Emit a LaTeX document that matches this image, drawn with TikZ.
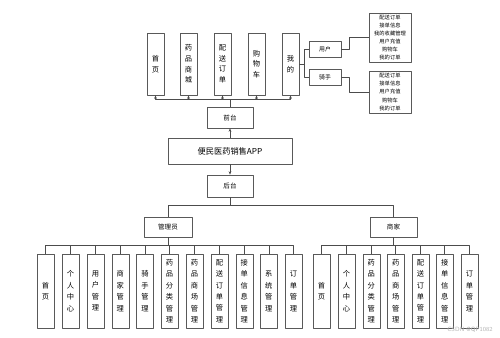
\documentclass[tikz,border=0pt]{standalone}
\usepackage{fontspec}
\newfontfamily\cjk{Noto Sans CJK SC}
\usetikzlibrary{arrows.meta}
\begin{document}
\begin{tikzpicture}[x=0.03cm,y=-0.03cm,>={Stealth[length=3pt,width=2.4pt]},line join=round,line width=0.5pt,
	conn/.style={draw=black!70},
	box/.style={draw=black!65,fill=white,inner sep=0pt,align=center,font=\cjk\fontsize{5.6}{7}\selectfont},
	topbox/.style={box,minimum width=0.51cm,minimum height=1.86cm,font=\cjk\fontsize{6.2}{9.1}\selectfont},
	leaf/.style={box,minimum width=0.51cm,minimum height=2.22cm,font=\cjk\fontsize{6.2}{9.8}\selectfont},
	listbox/.style={box,minimum width=1.26cm,font=\cjk\fontsize{4.5}{6.9}\selectfont}]
	\useasboundingbox (0,0) rectangle (500,338);
	\node[topbox] (t1) at (155.5,64) {首\\页};
	\node[topbox] (t2) at (188.5,64) {药\\品\\商\\城};
	\node[topbox] (t3) at (222.5,64) {配\\送\\订\\单};
	\node[topbox] (t4) at (256.5,64) {购\\物\\车};
	\node[topbox] (t5) at (290.5,64) {我\\的};
	\node[box,minimum width=0.96cm,minimum height=0.48cm,font=\cjk\fontsize{5}{6}\selectfont] (yonghu) at (325,49.5) {用户};
	\node[box,minimum width=0.96cm,minimum height=0.48cm,font=\cjk\fontsize{5}{6}\selectfont] (qishou) at (325,77.5) {骑手};
	\node[listbox,minimum height=1.47cm] (ulist) at (390,37.5) {配送订单\\接单信息\\我的收藏管理\\用户充值\\购物车\\我的订单};
	\node[listbox,minimum height=1.26cm] (qlist) at (390,92) {配送订单\\接单信息\\用户充值\\购物车\\我的订单};
	\node[box,minimum width=1.38cm,minimum height=0.63cm] (qiantai) at (230,117.5) {前台};
	\node[box,minimum width=3.72cm,minimum height=0.78cm,font=\cjk\fontsize{7}{8}\selectfont] (app) at (230,151) {便民医药销售APP};
	\node[box,minimum width=1.38cm,minimum height=0.66cm] (houtai) at (230,186) {后台};
	\node[box,minimum width=1.44cm,minimum height=0.6cm] (admin) at (168,227) {管理员};
	\node[box,minimum width=1.41cm,minimum height=0.6cm] (shangjia) at (393.5,227) {商家};
	\node[leaf] (a1) at (45.5,291) {首\\页};
	\node[leaf] (a2) at (70.5,291) {个\\人\\中\\心};
	\node[leaf] (a3) at (95.5,291) {用\\户\\管\\理};
	\node[leaf] (a4) at (120.3,291) {商\\家\\管\\理};
	\node[leaf] (a5) at (145,291) {骑\\手\\管\\理};
	\node[leaf] (a6) at (169.5,291) {药\\品\\分\\类\\管\\理};
	\node[leaf] (a7) at (194.5,291) {药\\品\\商\\场\\管\\理};
	\node[leaf] (a8) at (219.5,291) {配\\送\\订\\单\\管\\理};
	\node[leaf] (a9) at (244.3,291) {接\\单\\信\\息\\管\\理};
	\node[leaf] (a10) at (268.8,291) {系\\统\\管\\理};
	\node[leaf] (a11) at (293.5,291) {订\\单\\管\\理};
	\node[leaf] (s1) at (321.5,291) {首\\页};
	\node[leaf] (s2) at (346.5,291) {个\\人\\中\\心};
	\node[leaf] (s3) at (371.3,291) {药\\品\\分\\类\\管\\理};
	\node[leaf] (s4) at (395.7,291) {药\\品\\商\\场\\管\\理};
	\node[leaf] (s5) at (420.5,291) {配\\送\\订\\单\\管\\理};
	\node[leaf] (s6) at (444.7,291) {接\\单\\信\\息\\管\\理};
	\node[leaf] (s7) at (469.5,291) {订\\单\\管\\理};
	\node[text=black!30,font=\sffamily\fontsize{5.2}{6}\selectfont,inner sep=0pt] (mark) at (470,330) {CSDN @QP1082};
	\coordinate (fbus) at (230,99);
	\coordinate (wbus) at (304,64);
	\coordinate (hbus) at (230,205);
	\coordinate (abus) at (168,245);
	\coordinate (sbus) at (393.5,245);
	\draw[conn] (qiantai.north) -- (fbus);
	\draw[conn,->] (fbus) -| (t1.south); \draw[conn,->] (fbus) -| (t2.south); \draw[conn,->] (fbus) -| (t3.south);
	\draw[conn,->] (fbus) -| (t4.south); \draw[conn,->] (fbus) -| (t5.south);
	\draw[conn] (t5.east) -- (wbus) |- (yonghu.west) (wbus) |- (qishou.west);
	\draw[conn] (yonghu.east) -- ++(8,0) |- (ulist.west);
	\draw[conn] (qishou.east) -- ++(8,0) |- (qlist.west);
	\draw[conn,->] (app.north) -- (qiantai.south);
	\draw[conn,->] (app.south) -- (houtai.north);
	\draw[conn] (houtai.south) -- (hbus) -| (admin.north) (hbus) -| (shangjia.north);
	\draw[conn] (admin.south) -- (abus) (shangjia.south) -- (sbus);
	\draw[conn] (abus) -| (a1.north) (abus) -| (a2.north) (abus) -| (a3.north) (abus) -| (a4.north)
	(abus) -| (a5.north) (abus) -| (a6.north) (abus) -| (a7.north) (abus) -| (a8.north)
	(abus) -| (a9.north) (abus) -| (a10.north) (abus) -| (a11.north);
	\draw[conn] (sbus) -| (s1.north) (sbus) -| (s2.north) (sbus) -| (s3.north) (sbus) -| (s4.north)
	(sbus) -| (s5.north) (sbus) -| (s6.north) (sbus) -| (s7.north);
\end{tikzpicture}
\end{document}
